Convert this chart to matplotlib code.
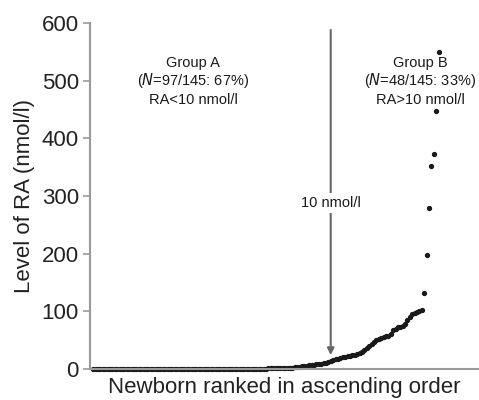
import numpy as np
import matplotlib
matplotlib.use('Agg')
import matplotlib.pyplot as plt

plt.rcParams['font.family'] = ['Liberation Sans', 'DejaVu Sans']

# RA levels (nmol/l) of 145 newborns, ranked ascending
group_a = [0.3, 0.3, 0.3, 0.3, 0.3, 0.3, 0.3, 0.3, 0.3, 0.3,
           0.3, 0.3, 0.3, 0.3, 0.3, 0.3, 0.3, 0.3, 0.3, 0.3,
           0.4, 0.4, 0.4, 0.4, 0.4, 0.4, 0.4, 0.4, 0.4, 0.4,
           0.4, 0.4, 0.4, 0.4, 0.4, 0.4, 0.4, 0.4, 0.4, 0.4,
           0.5, 0.5, 0.5, 0.5, 0.5, 0.5, 0.5, 0.5, 0.5, 0.5,
           0.5, 0.5, 0.5, 0.5, 0.5, 0.5, 0.5, 0.5, 0.5, 0.5,
           0.6, 0.6, 0.6, 0.6, 0.6, 0.6, 0.7, 0.7, 0.7, 0.7,
           0.8, 0.8, 0.8, 0.9, 0.9, 1.0, 1.0, 1.1, 1.2, 1.3,
           1.4, 1.6, 1.9, 2.3, 2.8, 3.3, 3.9, 4.5, 5.1, 5.7,
           6.3, 6.9, 7.5, 8.1, 8.7, 9.2, 9.7]
group_b = [11, 12, 14, 15, 17, 18, 19, 20, 21, 22,
           23, 24, 25, 26, 28, 30, 33, 36, 40, 44,
           47, 50, 52, 54, 56, 57, 58, 60, 68, 70,
           72, 73, 75, 78, 85, 90, 95, 97, 98, 100,
           102, 132, 197, 280, 352, 373, 448, 550]
ra = group_a + group_b
rank = np.arange(1, len(ra) + 1)

fig = plt.figure(figsize=(4.79, 4.0), dpi=100)
ax = fig.add_axes([0.188, 0.0775, 0.81, 0.865])

ax.plot(rank, ra, 'o', color='#1a1a1a', markersize=2.8, clip_on=False)

ax.set_xlim(-0.3, 161.4)
ax.set_ylim(0, 600)
ax.set_yticks([0, 100, 200, 300, 400, 500, 600])
ax.set_xticks([])
for s in ['top', 'right']:
    ax.spines[s].set_visible(False)
for s in ['left', 'bottom']:
    ax.spines[s].set_color('#999999')
    ax.spines[s].set_linewidth(1.5)
ax.tick_params(axis='y', direction='out', length=5, width=1.2,
               color='#999999', labelsize=16, labelcolor='#222222', pad=3)

ax.set_ylabel('Level of RA (nmol/l)', fontsize=16, color='#222222', labelpad=5)
ax.set_xlabel('Newborn ranked in ascending order', fontsize=16,
              color='#222222', labelpad=6)

# cut-off arrow
ax.annotate('', xy=(100, 24), xytext=(100, 588),
            arrowprops=dict(arrowstyle='-|>', color='#666666', lw=1.5,
                            mutation_scale=10, shrinkA=0, shrinkB=0))
ax.text(100, 288, '10 nmol/l', ha='center', va='center', fontsize=10.5,
        color='#1a1a1a', bbox=dict(facecolor='white', edgecolor='none', pad=2))

ax.text(42.6, 531, 'Group A', ha='center', va='center', fontsize=10.5, color='#1a1a1a')
ax.text(42.6, 501, '($N$=97/145: 67%)', ha='center', va='center', fontsize=10.5, color='#1a1a1a')
ax.text(42.6, 466, 'RA<10 nmol/l', ha='center', va='center', fontsize=10.5, color='#1a1a1a')

ax.text(137.2, 531, 'Group B', ha='center', va='center', fontsize=10.5, color='#1a1a1a')
ax.text(137.2, 501, '($N$=48/145: 33%)', ha='center', va='center', fontsize=10.5, color='#1a1a1a')
ax.text(137.2, 466, 'RA>10 nmol/l', ha='center', va='center', fontsize=10.5, color='#1a1a1a')

fig.savefig('out.png', dpi=100)
